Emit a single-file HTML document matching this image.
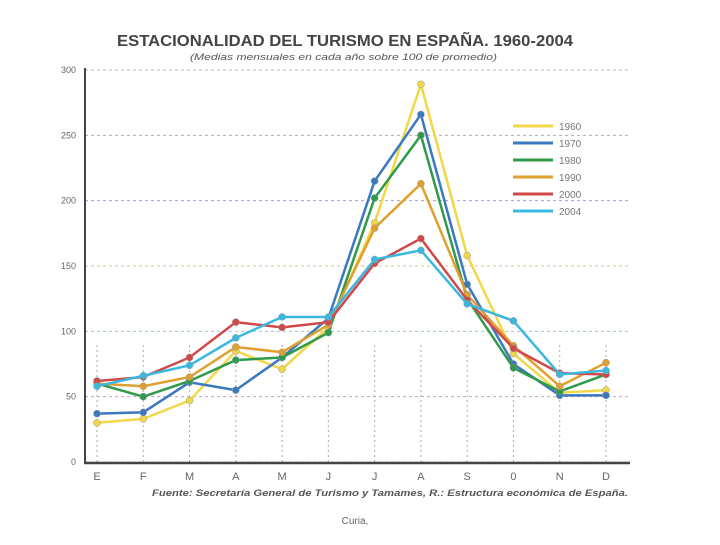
<!DOCTYPE html>
<html><head><meta charset="utf-8"><style>
body{margin:0;background:#fff;width:720px;height:540px;overflow:hidden;font-family:"Liberation Sans",sans-serif}
</style></head><body>
<svg width="720" height="540" xmlns="http://www.w3.org/2000/svg">
<text x="117" y="46" font-size="16" font-weight="bold" fill="#444" textLength="456" lengthAdjust="spacingAndGlyphs">ESTACIONALIDAD DEL TURISMO EN ESPAÑA. 1960-2004</text>
<text x="190" y="60" font-size="9" font-style="italic" fill="#555" textLength="307" lengthAdjust="spacingAndGlyphs">(Medias mensuales en cada año sobre 100 de promedio)</text>
<g id="grid"></g><g id="series"></g><g id="legend"></g>
<text x="152" y="496" font-size="9" font-style="italic" font-weight="bold" fill="#555" textLength="476" lengthAdjust="spacingAndGlyphs">Fuente: Secretaría General de Turismo y Tamames, R.: Estructura económica de España.</text>
<text x="355" y="524" font-size="10" fill="#666" text-anchor="middle">Curia,</text>
</svg>
<script>
const months=["E","F","M","A","M","J","J","A","S","0","N","D"];
const yTicks=[0,50,100,150,200,250,300];
const years=["1960","1970","1980","1990","2000","2004"];
const colors=["#f0d848","#3a78c0","#2e9a4a","#e0a030","#d04848","#3ab8e0"];
const s1960=[30,33,47,85,71,103,183,289,158,83,53,55];
const s1970=[37,38,61,55,80,110,215,266,136,75,51,51];
const s1980=[60,50,62,78,80,99,202,250,125,72,54,67];
const s1990=[60,58,65,88,84,105,179,213,128,89,58,76];
const s2000=[62,65,80,107,103,107,152,171,124,87,68,67];
const s2004=[58,66,74,95,111,111,155,162,121,108,67,70];
const allSeries=[s1960,s1970,s1980,s1990,s2000,s2004];
const NS="http://www.w3.org/2000/svg";
const xs=i=>97+i*(509/11), ys=v=>462-v*392/300;
function mk(t,a,p){const e=document.createElementNS(NS,t);for(const k in a)e.setAttribute(k,a[k]);p.appendChild(e);return e;}
const grid=document.getElementById('grid'),ser=document.getElementById('series'),leg=document.getElementById('legend');
const gc=["#bbb","#c8a0c8","#a0c8e0","#d0c890","#a0a0e0","#c8a0c8","#d0a0d0"];
yTicks.forEach((t,i)=>{
 const l=mk('line',{x1:85,x2:630,y1:ys(t),y2:ys(t),stroke:gc[i],'stroke-dasharray':'3,3','stroke-width':1},grid);
 
 
 const tx=mk('text',{x:76,y:ys(t)+3,'font-size':9,fill:'#666','text-anchor':'end'},grid);tx.textContent=t;
 
 
});
months.forEach((m,i)=>{
 const l=mk('line',{x1:xs(i),x2:xs(i),y1:ys(0),y2:ys(0)-120,stroke:'#aaa','stroke-dasharray':'2,3'},grid);
 
 
 const tx=mk('text',{x:xs(i),y:480,'font-size':11,fill:'#666','text-anchor':'middle'},grid);tx.textContent=m;
 
 
});
const ya=mk('line',{x1:85,x2:85,y1:68,y2:463,stroke:'#444','stroke-width':2},grid);


const xa=mk('line',{x1:84,x2:630,y1:463,y2:463,stroke:'#444','stroke-width':2.5},grid);


allSeries.forEach((d,k)=>{
 const g=mk('g',{},ser);
 
 
 const pl=mk('polyline',{points:d.map((v,i)=>xs(i)+','+ys(v)).join(' '),fill:'none',stroke:colors[k],'stroke-width':2.5},g);
 
 
 d.forEach((v,i)=>{const c=mk('circle',{cx:xs(i),cy:ys(v),r:3.5,fill:colors[k],stroke:'#999','stroke-width':0.5},g);
  
  });
 const y=126+k*17;
 const ll=mk('line',{x1:513,x2:553,y1:y,y2:y,stroke:colors[k],'stroke-width':3},leg);
 
 
 const lt=mk('text',{x:559,y:y+4,'font-size':10,fill:'#777'},leg);lt.textContent=years[k];
 
 
});
</script>
</body></html>
